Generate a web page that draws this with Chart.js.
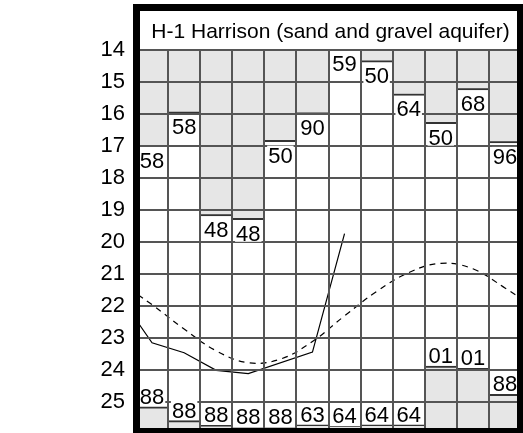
<!DOCTYPE html>
<html>
<head>
<meta charset="utf-8">
<script src="https://cdn.jsdelivr.net/npm/chart.js@4/dist/chart.umd.min.js"></script>
<style>
  html, body { margin: 0; padding: 0; background: #fff; }
</style>
</head>
<body>
<canvas id="chart" width="523" height="433"></canvas>
<script>
// water level, feet below land surface; one column per month
const title = "H-1 Harrison (sand and gravel aquifer)";
const columns = [0.5, 1.5, 2.5, 3.5, 4.5, 5.5, 6.5, 7.5, 8.5, 9.5, 10.5, 11.5];
const yTicks = [14, 15, 16, 17, 18, 19, 20, 21, 22, 23, 24, 25];
const yTop = 14;
const yBottom = 25.8;

// highest level of record for each month, and its year
const highValues = [17.02, 15.98, 19.18, 19.3, 16.86, 16.0, 14.0, 14.38, 15.42, 16.3, 15.25, 16.9];
const highYears = ["58", "58", "48", "48", "50", "90", "59", "50", "64", "50", "68", "96"];

// lowest level of record for each month, and its year
const lowValues = [25.14, 25.57, 25.72, 25.78, 25.78, 25.7, 25.75, 25.7, 25.7, 23.87, 23.94, 24.75];
const lowYears = ["88", "88", "88", "88", "88", "63", "64", "64", "64", "01", "01", "88"];

// current year (solid)
const currentX = [-0.5, 0.5, 1.5, 2.5, 3.5, 5.5, 6.5];
const currentY = [21.7, 23.14, 23.45, 24.0, 24.1, 23.43, 19.73];

// long-term average (dashed)
const averageX = [-0.5, 0.5, 1.5, 2.5, 3.5, 4.5, 5.5, 6.5, 7.5, 8.5, 9.5, 10.5, 11.5, 12.5];
const averageY = [21.25, 21.95, 22.71, 23.39, 23.76, 23.65, 23.1, 22.3, 21.54, 20.95, 20.66, 20.83, 21.43, 22.1];

const font = '"Liberation Sans", Arial, sans-serif';

function drawLabel(ctx, txt, cx, base) {
  const w = ctx.measureText(txt).width;
  ctx.fillStyle = "#fff";
  ctx.fillRect(cx - w / 2 - 1, base - 17, w + 2, 18);
  ctx.fillStyle = "#000";
  ctx.fillText(txt, cx, base);
}

const decorations = {
  id: "decorations",
  afterDraw(chart) {
    const ctx = chart.ctx;
    const xs = chart.scales.x;
    const ys = chart.scales.y;
    const area = chart.chartArea;
    ctx.save();
    ctx.font = "22px " + font;
    ctx.textAlign = "center";
    ctx.textBaseline = "alphabetic";
    columns.forEach((c, i) => {
      const cx = xs.getPixelForValue(c);
      drawLabel(ctx, highYears[i], cx, ys.getPixelForValue(highValues[i]) + 21);
      drawLabel(ctx, lowYears[i], cx, ys.getPixelForValue(lowValues[i]) - 3);
    });

    // title box
    ctx.fillStyle = "#fff";
    ctx.fillRect(area.left, 10, area.right - area.left, area.top - 11);
    ctx.fillStyle = "#000";
    ctx.font = "21px " + font;
    ctx.fillText(title, (area.left + area.right) / 2 + 2, 38);

    // heavy frame
    ctx.strokeStyle = "#000";
    ctx.lineWidth = 7;
    ctx.strokeRect(area.left + 0.5, 7.5, area.right - area.left - 1, area.bottom - 4);
    ctx.restore();
  }
};

new Chart(document.getElementById("chart"), {
  type: "bar",
  data: {
    datasets: [
      {
        type: "line",
        data: currentX.map((x, i) => ({ x: x, y: currentY[i] })),
        borderColor: "#000",
        borderWidth: 1.2,
        pointRadius: 0,
        tension: 0
      },
      {
        type: "line",
        data: averageX.map((x, i) => ({ x: x, y: averageY[i] })),
        borderColor: "#000",
        borderWidth: 1.2,
        borderDash: [6, 5],
        pointRadius: 0,
        tension: 0.4
      },
      {
        data: columns.map((x, i) => ({ x: x, y: [yTop, highValues[i]] })),
        backgroundColor: "#e6e6e6",
        borderColor: "#333",
        borderWidth: { top: 0, left: 0, right: 0, bottom: 2 },
        borderSkipped: false,
        barPercentage: 1,
        categoryPercentage: 1
      },
      {
        data: columns.map((x, i) => ({ x: x, y: [lowValues[i], yBottom] })),
        backgroundColor: "#e6e6e6",
        borderColor: "#333",
        borderWidth: { top: 2, left: 0, right: 0, bottom: 0 },
        borderSkipped: false,
        barPercentage: 1,
        categoryPercentage: 1
      }
    ]
  },
  options: {
    responsive: false,
    animation: false,
    layout: { padding: { top: 50, right: 2, bottom: 5, left: 0 } },
    plugins: {
      legend: { display: false },
      tooltip: { enabled: false }
    },
    scales: {
      x: {
        type: "linear",
        min: 0,
        max: 12,
        offset: false,
        stacked: true,
        afterBuildTicks: (s) => { s.ticks = [0, 1, 2, 3, 4, 5, 6, 7, 8, 9, 10, 11, 12].map(v => ({ value: v })); },
        afterFit: (s) => { s.height = 0; s.paddingLeft = 0; s.paddingRight = 0; },
        ticks: { display: false },
        border: { display: false },
        grid: { color: "#555", lineWidth: 2, drawTicks: false, offset: false, z: 1 }
      },
      y: {
        reverse: true,
        min: yTop,
        max: yBottom,
        afterBuildTicks: (s) => { s.ticks = yTicks.map(v => ({ value: v })); },
        afterFit: (s) => { s.width = 136; s.paddingTop = 0; s.paddingBottom = 0; },
        ticks: { color: "#000", padding: 11, font: { family: font, size: 22 } },
        border: { display: false },
        grid: { color: "#555", lineWidth: 2, drawTicks: false, z: 1 }
      }
    }
  },
  plugins: [decorations]
});
</script>
</body>
</html>
